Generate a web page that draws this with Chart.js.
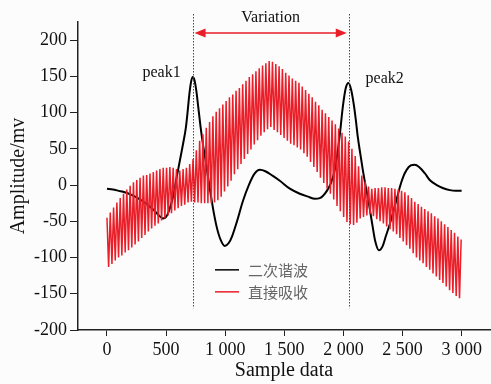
<!DOCTYPE html>
<html>
<head>
<meta charset="utf-8">
<script src="https://cdn.jsdelivr.net/npm/chart.js@4/dist/chart.umd.min.js"></script>
<style>
  body { margin: 0; background: #fcfcfc; }
  #chartContainer { display: block; }
</style>
</head>
<body>
<canvas id="chartContainer" width="491" height="384"></canvas>
<script>
// second harmonic (black)
var harmonicX = [0, 50, 100, 150, 200, 250, 300, 350, 400, 440, 473, 500, 530, 566, 590, 617, 645, 668, 684, 696, 710, 724, 740, 756, 772, 792, 812, 834, 855, 876, 900, 927, 960, 997, 1030, 1060, 1100, 1150, 1200, 1250, 1293, 1340, 1400, 1462, 1547, 1631, 1700, 1760, 1800, 1826, 1860, 1895, 1927, 1950, 1970, 1995, 2020, 2043, 2065, 2088, 2105, 2122, 2143, 2164, 2190, 2215, 2245, 2270, 2300, 2330, 2360, 2390, 2418, 2450, 2477, 2505, 2535, 2570, 2603, 2640, 2690, 2730, 2790, 2840, 2900, 2950, 3000];
var harmonicY = [-5, -6, -8, -10, -13, -17, -22, -28, -35, -42, -46, -44, -33, -11, 11, 34, 58, 80, 104, 124, 141, 149, 145, 130, 108, 80, 56, 34, 11, -11, -35, -57, -75, -84, -80, -70, -50, -22, 0, 16, 21, 19, 13, 6, -5, -12, -16, -19, -18, -15, -8, 3, 21, 44, 70, 108, 134, 141, 132, 111, 90, 66, 43, 21, -3, -25, -55, -78, -90, -85, -70, -55, -39, -20, -3, 11, 21, 27, 28, 25, 16, 7, 0, -4, -7, -8, -8];

// direct absorption (red): top and bottom of every modulation spike
var spikePeriod = 28;
var absorbTop = [-45, -38, -31, -24, -18, -12, -6, -1, 4, 7,
  10, 13, 14, 16, 18, 20, 22, 24, 24, 25,
  24, 22, 20, 22, 24, 29, 36, 48, 61, 70,
  79, 87, 95, 101, 106, 111, 116, 121, 125, 130,
  134, 139, 144, 149, 153, 157, 161, 165, 168, 171,
  170, 167, 164, 160, 155, 151, 147, 144, 141, 136,
  131, 126, 121, 115, 110, 104, 99, 94, 89, 84,
  78, 72, 67, 60, 50, 40, 26, 13, 5, -2,
  -5, -4, -4, -3, -3, -4, -4, -5, -6, -8,
  -10, -14, -18, -23, -26, -30, -33, -36, -39, -43,
  -46, -50, -54, -58, -62, -66, -71, -75];
var absorbBottom = [-113, -109, -104, -100, -97, -93, -90, -86, -82, -78,
  -73, -69, -64, -60, -56, -53, -49, -46, -42, -39,
  -35, -32, -29, -27, -24, -23, -24, -24, -25, -25,
  -25, -25, -24, -21, -16, -9, -2, 6, 15, 22,
  29, 36, 43, 49, 56, 62, 68, 73, 77, 80,
  76, 73, 69, 65, 61, 57, 55, 52, 49, 44,
  39, 32, 25, 18, 10, 3, -5, -12, -20, -29,
  -36, -44, -51, -54, -55, -52, -46, -44, -42, -40,
  -43, -47, -50, -53, -57, -61, -64, -68, -73, -78,
  -83, -88, -94, -100, -104, -108, -113, -117, -122, -126,
  -131, -135, -140, -145, -149, -153, -156];

var seriesNames = ['二次谐波', '直接吸收'];
var peakX = [724, 2045];
var peakLabels = ['peak1', 'peak2'];
var xTicks = [0, 500, 1000, 1500, 2000, 2500, 3000];
var yTicks = [-200, -150, -100, -50, 0, 50, 100, 150, 200];

var harmonicData = [];
for (var i in harmonicX) {
  harmonicData.push({x: harmonicX[i], y: harmonicY[i]});
}
var absorbData = [];
for (var k = 0; k < absorbTop.length; k++) {
  absorbData.push({x: k * spikePeriod, y: absorbTop[k]});
  if (k < absorbBottom.length) {
    absorbData.push({x: k * spikePeriod + spikePeriod / 2, y: absorbBottom[k]});
  }
}

const serif = "'Liberation Serif', 'DejaVu Serif', serif";
const red = 'rgb(234,30,40)';

// peaks, arrow and legend drawn over the plot
const decorations = {
  id: 'decorations',
  afterDatasetsDraw(chart) {
    const c = chart.ctx, xs = chart.scales.x, ys = chart.scales.y;
    const top = chart.chartArea.top;
    const px = peakX.map(v => xs.getPixelForValue(v));
    c.save();
    // dotted markers
    c.strokeStyle = '#3f2fe0';
    c.lineWidth = 1;
    c.setLineDash([1.5, 1.5]);
    px.forEach(p => {
      c.beginPath();
      c.moveTo(Math.round(p) + 0.5, top - 8);
      c.lineTo(Math.round(p) + 0.5, ys.getPixelForValue(-170));
      c.stroke();
    });
    c.setLineDash([]);
    // double arrow
    const ay = top + 11;
    const a0 = px[0] + 2, a1 = px[1] - 2;
    c.strokeStyle = red;
    c.fillStyle = red;
    c.lineWidth = 1.5;
    c.beginPath();
    c.moveTo(a0 + 8, ay);
    c.lineTo(a1 - 8, ay);
    c.stroke();
    c.beginPath();
    c.moveTo(a0, ay); c.lineTo(a0 + 11, ay - 4.5); c.lineTo(a0 + 11, ay + 4.5); c.closePath();
    c.fill();
    c.beginPath();
    c.moveTo(a1, ay); c.lineTo(a1 - 11, ay - 4.5); c.lineTo(a1 - 11, ay + 4.5); c.closePath();
    c.fill();
    // texts
    c.fillStyle = '#111';
    c.font = '16px ' + serif;
    c.textAlign = 'center';
    c.textBaseline = 'middle';
    c.fillText('Variation', (px[0] + px[1]) / 2, top - 4);
    c.fillText(peakLabels[0], px[0] - 31, ys.getPixelForValue(155));
    c.fillText(peakLabels[1], px[1] + 36, ys.getPixelForValue(147));
    // legend
    const colors = [chart.data.datasets[0].borderColor, chart.data.datasets[1].borderColor];
    c.textAlign = 'left';
    c.font = "15px 'Noto Sans CJK SC', sans-serif";
    seriesNames.forEach((name, j) => {
      const ly = ys.getPixelForValue(-117) + j * 22;
      c.strokeStyle = colors[j];
      c.lineWidth = 1.5;
      c.beginPath();
      c.moveTo(215, ly);
      c.lineTo(239, ly);
      c.stroke();
      c.fillStyle = '#666';
      c.fillText(name, 248, ly);
    });
    c.restore();
  }
};

function spaced(v) {
  var s = String(Math.abs(v));
  if (s.length > 3) s = s.slice(0, s.length - 3) + ' ' + s.slice(-3);
  return (v < 0 ? '-' : '') + s;
}

const ctx = document.getElementById('chartContainer');

var chart = new Chart(ctx, {
  type: 'line',
  data: {
    datasets: [{
      label: seriesNames[0],
      data: harmonicData,
      borderColor: '#000',
      borderWidth: 2,
      pointRadius: 0,
      cubicInterpolationMode: 'monotone',
      order: 1
    }, {
      label: seriesNames[1],
      data: absorbData,
      borderColor: red,
      borderWidth: 1.5,
      pointRadius: 0,
      tension: 0,
      order: 0
    }]
  },
  options: {
    responsive: false,
    animation: false,
    layout: { padding: { left: 0, right: 1, top: 22, bottom: 0 } },
    plugins: {
      legend: { display: false },
      tooltip: { enabled: false }
    },
    scales: {
      x: {
        type: 'linear',
        min: -245,
        max: 3240,
        afterBuildTicks: s => { s.ticks = xTicks.map(v => ({value: v})); },
        afterFit: s => { s.height = 54; },
        border: { display: true, color: '#222', width: 1.5 },
        grid: { display: true, drawOnChartArea: false, drawTicks: true, tickLength: 6, color: '#222' },
        ticks: {
          color: '#111',
          padding: 3,
          maxRotation: 0,
          font: { family: serif, size: 18 },
          callback: v => spaced(v)
        },
        title: {
          display: true,
          text: 'Sample data',
          color: '#111',
          font: { family: serif, size: 20 },
          padding: { top: 0, bottom: 1 }
        }
      },
      y: {
        min: -200,
        max: 225,
        afterBuildTicks: s => { s.ticks = yTicks.map(v => ({value: v})); },
        afterFit: s => { s.width = 78; },
        border: { display: true, color: '#222', width: 1.5 },
        grid: { display: true, drawOnChartArea: false, drawTicks: true, tickLength: 8, color: '#222' },
        ticks: {
          color: '#111',
          padding: 3,
          font: { family: serif, size: 18 },
          callback: v => spaced(v)
        },
        title: {
          display: true,
          text: 'Amplitude/mv',
          color: '#111',
          font: { family: serif, size: 20 },
          padding: { top: 7, bottom: 0 }
        }
      }
    }
  },
  plugins: [decorations]
});
</script>
</body>
</html>
